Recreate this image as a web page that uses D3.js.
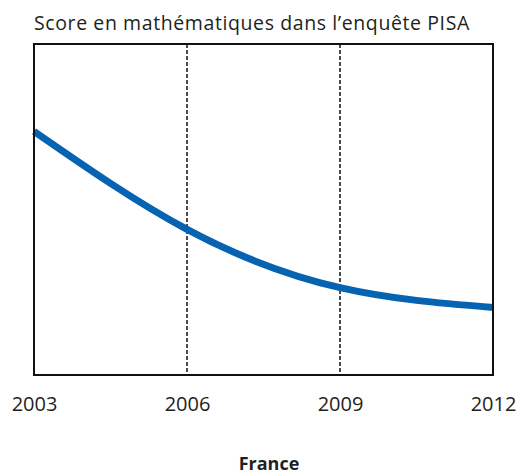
<!DOCTYPE html>
<html><head><meta charset="utf-8">
<script src="https://cdn.jsdelivr.net/npm/d3@7"></script>
<style>body{margin:0;background:#fff}svg{display:block}</style>
</head><body>
<script>
const title = "Score en mathématiques dans l’enquête PISA";
const footer = "France";
const years = [2003, 2006, 2009, 2012];
const scores = [508.4, 501.0, 496.6, 495.1];
const markerYears = [2006, 2009];
const yDomain = [490, 515];

const W = 519, H = 474;
const m = {left: 34, right: 26, top: 44, bottom: 99};
const svg = d3.select("body").append("svg").attr("width", W).attr("height", H);
const x = d3.scaleLinear().domain([years[0], years[years.length-1]]).range([m.left, W - m.right]);
const y = d3.scaleLinear().domain(yDomain).range([H - m.bottom, m.top]);
const font = "'Open Sans', sans-serif";
const ink = "#231f20";

svg.append("text").attr("x", 34).attr("y", 30).attr("font-family", font).attr("font-size", 19.5)
  .attr("letter-spacing", 0.6).attr("fill", ink).text(title);

svg.selectAll("line.mk").data(markerYears).join("line").attr("class","mk")
  .attr("x1", d => x(d)).attr("x2", d => x(d))
  .attr("y1", m.top).attr("y2", H - m.bottom)
  .attr("stroke", "#000").attr("stroke-width", 1.4).attr("stroke-dasharray", "4,2");

const line = d3.line().x((d,i) => x(years[i])).y(d => y(d)).curve(d3.curveNatural);
svg.append("path").datum(scores).attr("d", line).attr("fill", "none")
  .attr("stroke", "#0563b1").attr("stroke-width", 7);

svg.append("rect").attr("x", m.left).attr("y", m.top)
  .attr("width", W - m.left - m.right).attr("height", H - m.top - m.bottom)
  .attr("fill", "none").attr("stroke", "#111").attr("stroke-width", 2);

const ax = d3.axisBottom(x).tickValues(years).tickFormat(d3.format("d")).tickSize(0).tickPadding(0);
const g = svg.append("g").attr("transform", `translate(0,${H - m.bottom})`).call(ax);
g.select(".domain").remove();
g.selectAll("text").attr("font-family", font).attr("font-size", 20).attr("fill", ink)
  .attr("dy", null).attr("y", 36);

svg.append("text").attr("x", 269).attr("y", 470).attr("text-anchor", "middle")
  .attr("font-family", font).attr("font-size", 18).attr("font-weight", "bold")
  .attr("fill", ink).text(footer);
</script>
</body></html>
